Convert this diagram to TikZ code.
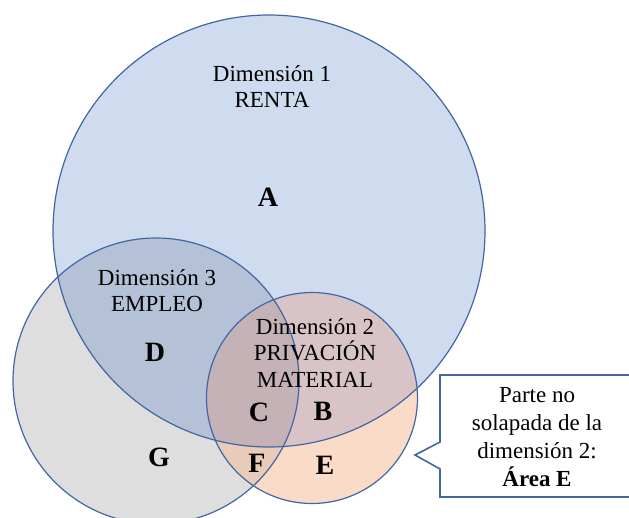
\documentclass[tikz,border=0pt]{standalone}
\usepackage{fontspec}
\setmainfont{Liberation Serif}
\definecolor{cone}{HTML}{CFDCEF}
\definecolor{cthree}{HTML}{DEDEDE}
\definecolor{conethree}{HTML}{B4C1D6}
\definecolor{ctwo}{HTML}{FADBC7}
\definecolor{conetwo}{HTML}{D8C4C6}
\definecolor{ctwothree}{HTML}{E8CBB8}
\definecolor{call}{HTML}{C4B2B6}
\definecolor{linec}{HTML}{4266A3}
\begin{document}
\begin{tikzpicture}[x=1pt,y=-1pt,
  lab/.style={font=\fontsize{23}{26.5}\selectfont, align=center, inner sep=0pt},
  letter/.style={font=\fontsize{28}{30}\selectfont\bfseries, inner sep=0pt},
  ring/.style={draw=linec, line width=1.2pt},
  calloutbox/.style={draw=linec, line width=1.6pt, fill=white}]
\useasboundingbox (0,0) rectangle (629,517);
\clip (0,0) rectangle (629,517);
\coordinate (o1) at (269,231);
\coordinate (o3) at (156,381);
\coordinate (o2) at (312,398);
% fills
\fill[cone] (o1) circle[radius=216pt];
\fill[cthree] (o3) circle[radius=143pt];
\begin{scope}
  \clip (o1) circle[radius=216pt];
  \fill[conethree] (o3) circle[radius=143pt];
\end{scope}
\fill[ctwo] (o2) circle[radius=105.5pt];
\begin{scope}
  \clip (o2) circle[radius=105.5pt];
  \fill[conetwo] (o1) circle[radius=216pt];
\end{scope}
\begin{scope}
  \clip (o2) circle[radius=105.5pt];
  \fill[ctwothree] (o3) circle[radius=143pt];
\end{scope}
\begin{scope}
  \clip (o2) circle[radius=105.5pt];
  \clip (o1) circle[radius=216pt];
  \fill[call] (o3) circle[radius=143pt];
\end{scope}
% outlines
\draw[ring] (o1) circle[radius=216pt];
\draw[ring] (o3) circle[radius=143pt];
\draw[ring] (o2) circle[radius=105.5pt];
% labels
\node[lab] (t1) at (272,86.5) {Dimensión 1\\RENTA};
\node[lab] (t3) at (157,290.5) {Dimensión 3\\EMPLEO};
\node[lab] (t2) at (315,352.5) {Dimensión 2\\PRIVACIÓN\\MATERIAL};
\node[letter] (la) at (268,197) {A};
\node[letter] (ld) at (155,352) {D};
\node[letter] (lg) at (159,457) {G};
\node[letter] (lc) at (259,412) {C};
\node[letter] (lb) at (323,411) {B};
\node[letter] (lf) at (257,463) {F};
\node[letter] (le) at (325,465) {E};
% callout
\draw[calloutbox] (440,375) -- (645,375) -- (645,497) -- (440,497) -- (440,469)
  -- (415,455) -- (440,442) -- cycle;
\node[lab, font=\fontsize{23}{28}\selectfont] (ct) at (537,437.5)
  {Parte no\\solapada de la\\dimensión 2:\\\textbf{Área E}};
\end{tikzpicture}
\end{document}
